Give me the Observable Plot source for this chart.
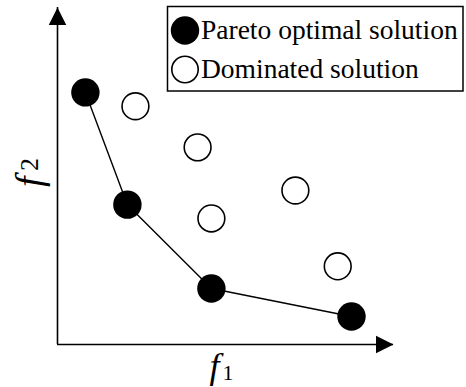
<!DOCTYPE html>
<html>
<head>
<meta charset="utf-8">
<script src="https://cdn.jsdelivr.net/npm/d3@7"></script>
<script src="https://cdn.jsdelivr.net/npm/@observablehq/plot@0.6"></script>
<style>
  html, body { margin: 0; padding: 0; background: #fff; }
  #chart { position: relative; width: 466px; height: 387px; }
  #chart svg { display: block; }
  #legend { position: absolute; left: 0; top: 0; }
</style>
</head>
<body>
<div id="chart"></div>
<script>
// Objective values (f1, f2) of the non-dominated front
const paretoF1 = [0.83, 2.08, 4.58, 8.75];
const paretoF2 = [7.48, 4.15, 1.66, 0.83];

// Objective values of the dominated solutions
const dominatedF1 = [2.32, 4.17, 4.58, 7.08, 8.34];
const dominatedF2 = [7.07, 5.85, 3.74, 4.57, 2.32];

// Axis extents and labels
const f1Domain = [0, 10];
const f2Domain = [0, 10];
const axisName = "f";
const xSub = "1";
const ySub = "2";

// Legend entries
const legendLabels = ["Pareto optimal solution", "Dominated solution"];
const legendFills = ["black", "white"];

const pareto = paretoF1.map((f1, i) => ({f1, f2: paretoF2[i]}));
const dominated = dominatedF1.map((f1, i) => ({f1, f2: dominatedF2[i]}));
const axisEnds = [
  {f1: f1Domain[0], f2: f2Domain[1], angle: 0},
  {f1: f1Domain[1], f2: f2Domain[0], angle: 90}
];

// Solid triangular arrowhead with its tip at the origin
const arrowHead = {
  draw(ctx, size) {
    const w = Math.sqrt(size);
    ctx.moveTo(0, 0);
    ctx.lineTo(-w / 2, w);
    ctx.lineTo(w / 2, w);
    ctx.closePath();
  }
};

const serif = "'Liberation Serif', 'Times New Roman', serif";

const plot = Plot.plot({
  width: 466,
  height: 387,
  marginLeft: 57,
  marginRight: 73,
  marginTop: 7,
  marginBottom: 43,
  style: {fontFamily: serif, background: "white"},
  x: {domain: f1Domain, axis: null},
  y: {domain: f2Domain, axis: null},
  marks: [
    Plot.ruleY([f2Domain[0]], {stroke: "black", strokeWidth: 1.6}),
    Plot.ruleX([f1Domain[0]], {stroke: "black", strokeWidth: 1.6}),
    Plot.dot(axisEnds, {x: "f1", y: "f2", rotate: "angle", symbol: arrowHead, r: 17.5 / Math.sqrt(Math.PI), fill: "black", stroke: "none"}),
    Plot.line(pareto, {x: "f1", y: "f2", stroke: "black", strokeWidth: 1.4}),
    Plot.dot(dominated, {x: "f1", y: "f2", r: 13.4, fill: "white", stroke: "black", strokeWidth: 1.6}),
    Plot.dot(pareto, {x: "f1", y: "f2", r: 14.2, fill: "black", stroke: "none"}),
    // f1 axis label
    Plot.text([axisName], {frameAnchor: "bottom", text: d => d, fontFamily: serif, fontStyle: "italic", fontSize: 36, textAnchor: "end", lineAnchor: "middle", dx: -6, dy: 22, fill: "black"}),
    Plot.text([xSub], {frameAnchor: "bottom", text: d => d, fontFamily: serif, fontSize: 22, textAnchor: "start", lineAnchor: "middle", dx: -3, dy: 28, fill: "black"}),
    // f2 axis label
    Plot.text([axisName], {frameAnchor: "left", text: d => d, fontFamily: serif, fontStyle: "italic", fontSize: 38, rotate: -90, textAnchor: "start", lineAnchor: "middle", dx: -27.5, dy: 11, fill: "black"}),
    Plot.text([ySub], {frameAnchor: "left", text: d => d, fontFamily: serif, fontSize: 26, rotate: -90, textAnchor: "start", lineAnchor: "middle", dx: -27.5, dy: -5, fill: "black"})
  ]
});

const chart = document.getElementById("chart");
chart.appendChild(plot);

// Legend box in the upper right corner
const legend = d3.select(chart).append("svg")
  .attr("id", "legend")
  .attr("width", 466)
  .attr("height", 100)
  .style("overflow", "visible");

legend.append("rect")
  .attr("x", 167.5).attr("y", 6.5)
  .attr("width", 295.5).attr("height", 84.5)
  .attr("fill", "white").attr("stroke", "black").attr("stroke-width", 1.5);

const rows = legend.selectAll("g.entry")
  .data(legendLabels)
  .join("g")
  .attr("class", "entry")
  .attr("transform", (d, i) => `translate(0, ${i * 39})`);

rows.append("circle")
  .attr("cx", 185).attr("cy", 30.5)
  .attr("r", (d, i) => i === 0 ? 14.2 : 13.2)
  .attr("fill", (d, i) => legendFills[i])
  .attr("stroke", (d, i) => i === 0 ? "none" : "black")
  .attr("stroke-width", 1.6);

rows.append("text")
  .attr("x", 201).attr("y", 39)
  .style("font-family", serif)
  .attr("font-size", 27.5)
  .attr("fill", "black")
  .text(d => d);
</script>
</body>
</html>
